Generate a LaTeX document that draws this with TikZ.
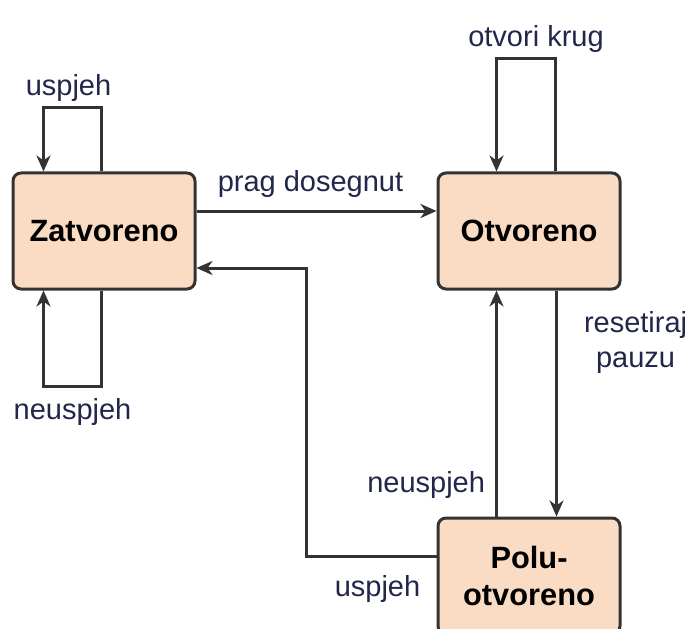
\documentclass[tikz,border=0pt]{standalone}
\usepackage{fontspec}
\setmainfont{Liberation Sans}
\usetikzlibrary{positioning,calc,arrows.meta}
\definecolor{statefill}{HTML}{F9DCC3}
\definecolor{lineclr}{HTML}{333333}
\definecolor{labelclr}{HTML}{22264A}
\tikzstyle{state box}=[draw=lineclr, line width=1.5pt, fill=statefill, rounded corners=4pt,
  minimum width=91pt, minimum height=58pt, inner sep=0pt, align=center,
  font=\fontsize{15.4}{18.5}\selectfont\bfseries]
\tikzstyle{trans edge}=[-{Stealth[length=8pt,width=7pt,inset=2.5pt]}, draw=lineclr, line width=1.5pt]
\tikzstyle{trans label}=[text=labelclr, font=\fontsize{14.5}{17.5}\selectfont, inner sep=2pt]
\newcommand{\statenode}[3][]{
  \node [state box, #1] (#2) {#3}
}

\begin{document}
\begin{tikzpicture}[x=0.5pt,y=0.5pt]
  \useasboundingbox (0,0) rectangle (691,628);
        \statenode[at={(104,397)}]{zat}{Zatvoreno};
        \statenode[right=120pt of zat]{otv}{Otvoreno};
         \statenode[below=113pt of otv]{polu}{Polu-\\otvoreno};

      \draw[trans edge] ($(zat.north west)+(90,0)$) -- ++(0,64) -| node[pos=0.25,above,xshift=-2pt,trans label]{uspjeh} ($(zat.north west)+(32,0)$);
      \draw[trans edge] ($(zat.south west)+(90,0)$) -- ++(0,-96) -| node[pos=0.25,below=3pt,trans label]{neuspjeh} ($(zat.south west)+(32,0)$);
      \draw[trans edge] ($(otv.north west)+(119,0)$) -- ++(0,113) -| node[pos=0.25,above,xshift=5pt,trans label]{otvori krug} ($(otv.north west)+(60,0)$);
            \draw[trans edge] ($(zat.east)+(0,20)$) -- node[above=4pt,xshift=-3pt,trans label]{prag dosegnut} ($(otv.west)+(0,20)$);
            \draw[trans edge] ($(polu.west)+(0,20)$) -| node[pos=0.25,below=7pt,xshift=3pt,trans label]{uspjeh} ($(zat.east)+(110,-37)$) -- ($(zat.east)+(0,-37)$);
                  \draw[trans edge] ($(polu.north west)+(60,0)$) -- node[pos=0.14,left=3pt,trans label]{neuspjeh} ($(otv.south west)+(60,0)$);
                  \draw[trans edge] ($(otv.south west)+(120,0)$) -- node[pos=0.23,right=11pt,trans label,align=center]{resetiraj\\pauzu} ($(polu.north west)+(120,0)$);
\end{tikzpicture}
\end{document}
